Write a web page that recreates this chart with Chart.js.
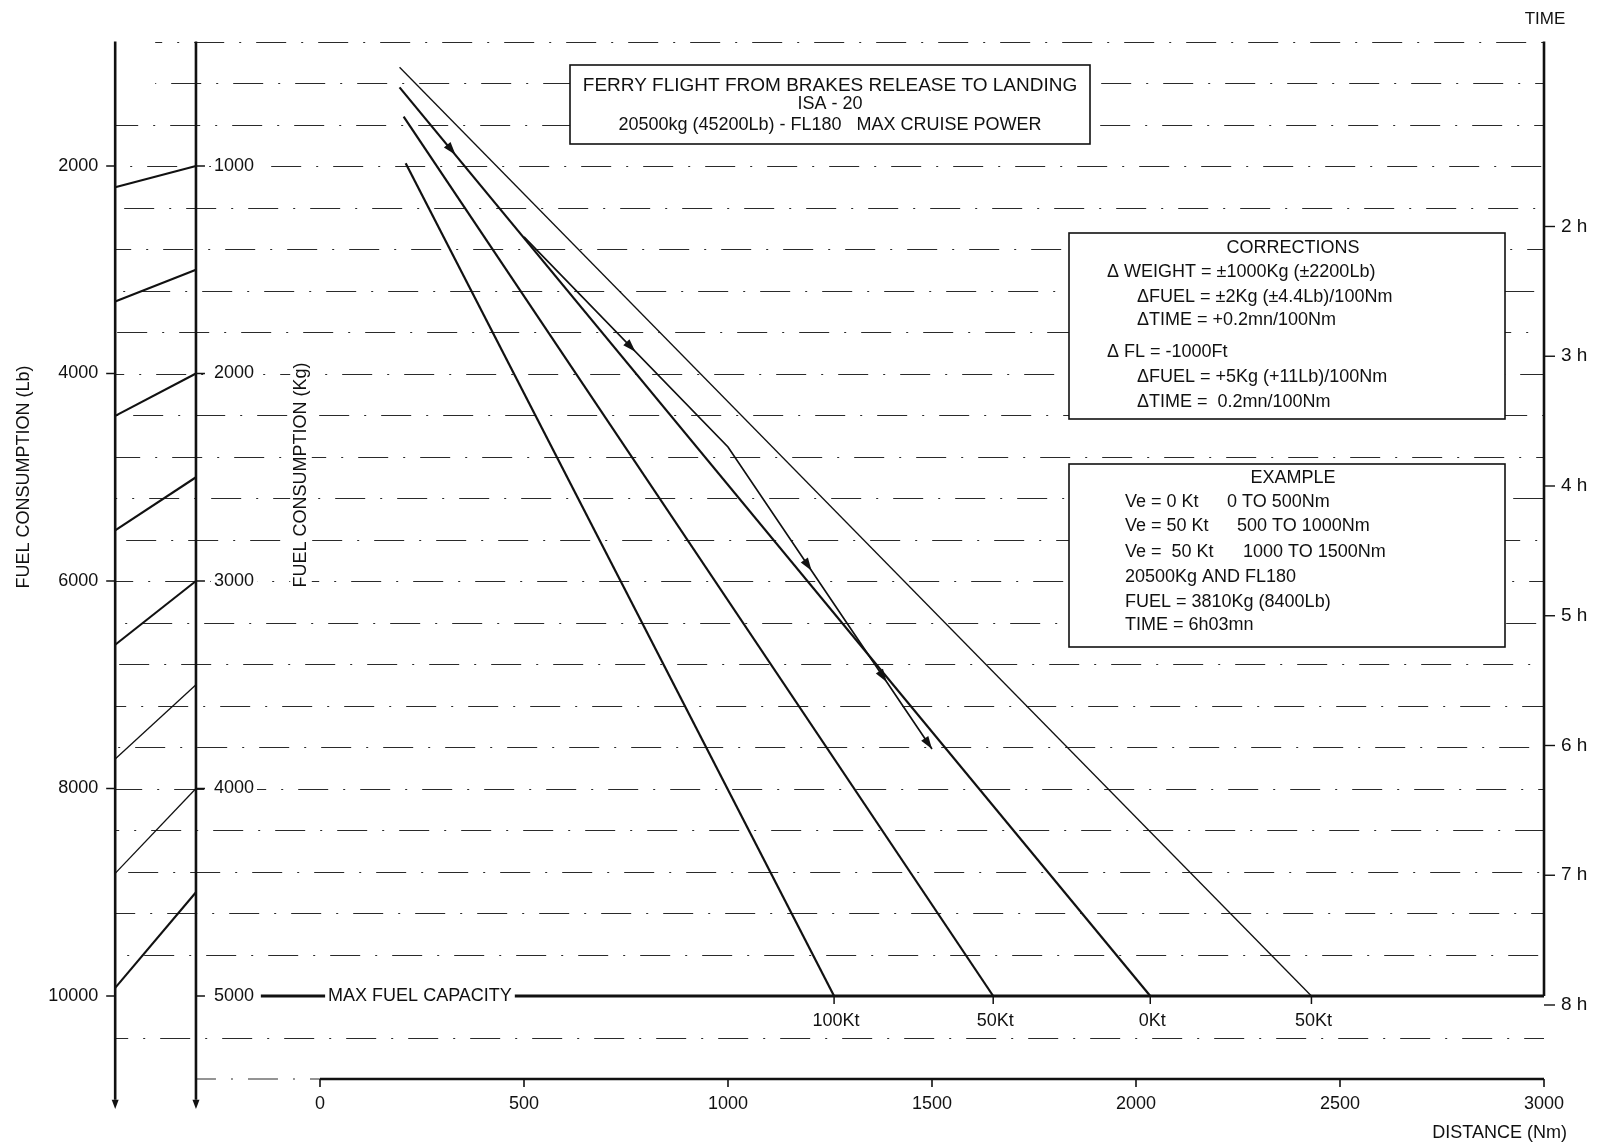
<!DOCTYPE html>
<html>
<head>
<meta charset="utf-8">
<script src="https://cdn.jsdelivr.net/npm/chart.js@4.4.1/dist/chart.umd.min.js"></script>
<style>
  html, body { margin: 0; padding: 0; background: #fff; }
  #wrap { width: 1607px; height: 1143px; }
</style>
</head>
<body>
<div id="wrap"><canvas id="ferry" width="1607" height="1143"></canvas></div>
<script>
"use strict";

// wind lines (Ve) : start / end
const windLabels = ["50Kt", "0Kt", "50Kt", "100Kt"];
const windStartDist = [195, 195, 205, 210];
const windStartFuel = [524, 621, 762, 987];
const windEndDist = [2430, 2035, 1650, 1260];
const maxFuelKg = 5000;

// worked example : leaves the 0Kt line at 500Nm
const exampleDist = [500, 1000, 1500];
const exampleFuel = [1342, 2354, 3810];
const arrowDist = [322, 762, 1196, 1380, 1500];

// kg -> lb conversion lines between the two left scales
const convKg = [1000, 1500, 2000, 2500, 3000, 3500, 4000, 4500];
const convLb = [2205, 3307, 4409, 5512, 6614, 7716, 8818, 9921];

// tick labels
const distTicks = [0, 500, 1000, 1500, 2000, 2500, 3000];
const kgTicks = [1000, 2000, 3000, 4000, 5000];
const lbTicks = [2000, 4000, 6000, 8000, 10000];
const timeTicks = [2, 3, 4, 5, 6, 7, 8];

// where the left scales sit, in distance units
const LB_AXIS = -502;
const KG_AXIS = -304;
const FONT = '"Liberation Sans", Arial, sans-serif';
const INK = "#111";

function seg(ctx, x1, y1, x2, y2) {
  ctx.beginPath();
  ctx.moveTo(x1, y1);
  ctx.lineTo(x2, y2);
  ctx.stroke();
}

function txt(ctx, s, x, y, size, align, bg) {
  ctx.font = size + "px " + FONT;
  ctx.textAlign = align || "left";
  ctx.textBaseline = "middle";
  if (bg) {
    const w = ctx.measureText(s).width;
    const x0 = align === "center" ? x - w / 2 : align === "right" ? x - w : x;
    ctx.fillStyle = "#fff";
    ctx.fillRect(x0 - 3, y - size * 0.6, w + 6, size * 1.2);
  }
  ctx.fillStyle = INK;
  ctx.fillText(s, x, y);
}

function arrowHead(ctx, x, y, ang, len, half) {
  ctx.save();
  ctx.translate(x, y);
  ctx.rotate(ang);
  ctx.beginPath();
  ctx.moveTo(len / 2, 0);
  ctx.lineTo(-len / 2, -half);
  ctx.lineTo(-len / 2, half);
  ctx.closePath();
  ctx.fill();
  ctx.restore();
}

function box(ctx, x, y, w, h) {
  ctx.save();
  ctx.setLineDash([]);
  ctx.fillStyle = "#fff";
  ctx.fillRect(x, y, w, h);
  ctx.strokeStyle = INK;
  ctx.lineWidth = 1.6;
  ctx.strokeRect(x, y, w, h);
  ctx.restore();
}

const ferryPlugin = {
  id: "ferry",
  beforeDraw(chart) {
    const ctx = chart.ctx;
    ctx.save();
    ctx.fillStyle = "#fff";
    ctx.fillRect(0, 0, chart.width, chart.height);
    ctx.restore();
  },
  beforeDatasetsDraw(chart) {
    const ctx = chart.ctx;
    const sx = chart.scales.x, sy = chart.scales.y, sLb = chart.scales.yLb, sT = chart.scales.yTime;
    const xLb = sx.getPixelForValue(LB_AXIS), xKg = sx.getPixelForValue(KG_AXIS);
    const x0 = sx.getPixelForValue(0), xR = sx.getPixelForValue(3000);
    ctx.save();

    // broken dash-dot grid every 200 kg
    ctx.strokeStyle = "#2a2a2a";
    ctx.lineWidth = 1.2;
    let row = 0;
    for (let kg = 400; kg <= 5200; kg += 200) {
      row++;
      if (kg === maxFuelKg) continue;
      ctx.setLineDash([30, 15, 2, 15]);
      ctx.lineDashOffset = (row * 23) % 62;
      const yy = Math.round(sy.getPixelForValue(kg)) + 0.5;
      seg(ctx, kg < 700 ? xLb + 40 : xLb, yy, xR, yy);
    }
    ctx.lineDashOffset = 10;
    const yAx = sy.getPixelForValue(5400);
    seg(ctx, xKg, yAx, x0, yAx);
    ctx.setLineDash([]);

    // annotation boxes
    box(ctx, 570, 65, 520, 79);
    box(ctx, 1069, 233, 436, 186);
    box(ctx, 1069, 464, 436, 183);

    // left scales: lb and kg, with arrows at the foot
    ctx.strokeStyle = INK;
    ctx.fillStyle = INK;
    ctx.lineWidth = 2.6;
    const yTop = sy.getPixelForValue(400), yBot = sy.getPixelForValue(5500), yTip = sy.getPixelForValue(5545);
    [xLb, xKg].forEach(function (xx) {
      seg(ctx, xx, yTop, xx, yBot);
      arrowHead(ctx, xx, (yBot + yTip) / 2, Math.PI / 2, yTip - yBot, 3.5);
    });

    // kg -> lb lines
    convKg.forEach(function (kg, i) {
      ctx.lineWidth = (i === 5 || i === 6) ? 1.3 : 2.1;
      seg(ctx, xKg, sy.getPixelForValue(kg), xLb, sLb.getPixelForValue(convLb[i]));
    });

    // right (time) scale
    ctx.lineWidth = 2.6;
    seg(ctx, xR, yTop, xR, sy.getPixelForValue(maxFuelKg));
    ctx.lineWidth = 1.4;
    timeTicks.forEach(function (h) {
      const yy = sT.getPixelForValue(h);
      seg(ctx, xR, yy, xR + 11, yy);
    });

    // distance axis
    ctx.lineWidth = 2.6;
    seg(ctx, x0, yAx, xR, yAx);
    ctx.lineWidth = 1.6;
    distTicks.forEach(function (d) {
      const xx = sx.getPixelForValue(d);
      seg(ctx, xx, yAx, xx, yAx + 8);
    });

    // max fuel capacity line
    const yMax = sy.getPixelForValue(maxFuelKg);
    ctx.lineWidth = 3;
    seg(ctx, sx.getPixelForValue(-145), yMax, xR, yMax);
    ctx.lineWidth = 1.5;
    windEndDist.forEach(function (d) {
      const xx = sx.getPixelForValue(d);
      seg(ctx, xx, yMax, xx, yMax + 8);
    });

    // ticks on the left scales
    lbTicks.forEach(function (lb) {
      const yy = sLb.getPixelForValue(lb);
      seg(ctx, xLb - 9, yy, xLb, yy);
    });
    kgTicks.forEach(function (kg) {
      const yy = sy.getPixelForValue(kg);
      seg(ctx, xKg, yy, xKg + 9, yy);
    });
    ctx.restore();
  },
  afterDatasetsDraw(chart) {
    const ctx = chart.ctx;
    const sx = chart.scales.x, sy = chart.scales.y, sLb = chart.scales.yLb, sT = chart.scales.yTime;
    const xLb = sx.getPixelForValue(LB_AXIS), xKg = sx.getPixelForValue(KG_AXIS);
    const xR = sx.getPixelForValue(3000);
    ctx.save();

    // arrows along the example route (first one rides the 0Kt line)
    const route = [[windStartDist[1], windStartFuel[1]]];
    exampleDist.forEach(function (d, i) { route.push([d, exampleFuel[i]]); });
    const pts = route.map(function (p) { return [sx.getPixelForValue(p[0]), sy.getPixelForValue(p[1])]; });
    ctx.fillStyle = INK;
    arrowDist.forEach(function (d) {
      const xx = sx.getPixelForValue(d);
      for (let i = 1; i < pts.length; i++) {
        if (xx <= pts[i][0] + 0.01) {
          const a = pts[i - 1], b = pts[i];
          const t = (xx - a[0]) / (b[0] - a[0]);
          const ang = Math.atan2(b[1] - a[1], b[0] - a[0]);
          const len = 13;
          const back = d === 1500 ? len / 2 : 0;
          const cx = a[0] + t * (b[0] - a[0]) - Math.cos(ang) * back;
          const cy = a[1] + t * (b[1] - a[1]) - Math.sin(ang) * back;
          arrowHead(ctx, cx, cy, ang, len, 4.3);
          break;
        }
      }
    });

    // left scale labels and titles
    lbTicks.forEach(function (lb) {
      txt(ctx, String(lb), xLb - 17, sLb.getPixelForValue(lb), 18, "right");
    });
    kgTicks.forEach(function (kg) {
      txt(ctx, String(kg), xKg + 18, sy.getPixelForValue(kg), 18, "left", true);
    });
    [["FUEL CONSUMPTION (Lb)", 24, 477, false], ["FUEL CONSUMPTION (Kg)", 301, 475, true]].forEach(function (t) {
      ctx.save();
      ctx.translate(t[1], t[2]);
      ctx.rotate(-Math.PI / 2);
      txt(ctx, t[0], 0, 0, 18, "center", t[3]);
      ctx.restore();
    });

    // max fuel + wind end labels
    const yMax = sy.getPixelForValue(maxFuelKg);
    txt(ctx, "MAX FUEL CAPACITY", sx.getPixelForValue(245), yMax, 18, "center", true);
    windEndDist.forEach(function (d, i) {
      txt(ctx, windLabels[i], sx.getPixelForValue(d) + 2, yMax + 25, 18, "center");
    });

    // distance axis labels
    const yAx = sy.getPixelForValue(5400);
    distTicks.forEach(function (d) {
      txt(ctx, String(d), sx.getPixelForValue(d), yAx + 25, 18, "center");
    });
    txt(ctx, "DISTANCE (Nm)", 1567, 1133, 18, "right");

    // time scale labels
    timeTicks.forEach(function (h) {
      txt(ctx, h + " h", xR + 17, sT.getPixelForValue(h), 19, "left");
    });
    txt(ctx, "TIME", xR + 1, 19, 17, "center");

    // title box
    txt(ctx, "FERRY FLIGHT FROM BRAKES RELEASE TO LANDING", 830, 86, 19, "center");
    txt(ctx, "ISA - 20", 830, 104, 18, "center");
    txt(ctx, "20500kg (45200Lb) - FL180   MAX CRUISE POWER", 830, 125, 18, "center");

    // corrections box
    txt(ctx, "CORRECTIONS", 1293, 248, 18, "center");
    txt(ctx, "\u0394 WEIGHT = \u00b11000Kg (\u00b12200Lb)", 1107, 272, 18);
    txt(ctx, "\u0394FUEL = \u00b12Kg (\u00b14.4Lb)/100Nm", 1137, 297, 18);
    txt(ctx, "\u0394TIME = +0.2mn/100Nm", 1137, 320, 18);
    txt(ctx, "\u0394 FL = -1000Ft", 1107, 352, 18);
    txt(ctx, "\u0394FUEL = +5Kg (+11Lb)/100Nm", 1137, 377, 18);
    txt(ctx, "\u0394TIME =  0.2mn/100Nm", 1137, 402, 18);

    // example box
    txt(ctx, "EXAMPLE", 1293, 478, 18, "center");
    txt(ctx, "Ve = 0 Kt", 1125, 502, 18);
    txt(ctx, "0 TO 500Nm", 1227, 502, 18);
    txt(ctx, "Ve = 50 Kt", 1125, 526, 18);
    txt(ctx, "500 TO 1000Nm", 1237, 526, 18);
    txt(ctx, "Ve =  50 Kt", 1125, 552, 18);
    txt(ctx, "1000 TO 1500Nm", 1243, 552, 18);
    txt(ctx, "20500Kg AND FL180", 1125, 577, 18);
    txt(ctx, "FUEL = 3810Kg (8400Lb)", 1125, 602, 18);
    txt(ctx, "TIME = 6h03mn", 1125, 625, 18);
    ctx.restore();
  }
};

const windWidths = [1.3, 2.2, 2.2, 2.2];
const datasets = windLabels.map(function (lab, i) {
  return {
    label: lab,
    data: [{ x: windStartDist[i], y: windStartFuel[i] }, { x: windEndDist[i], y: maxFuelKg }],
    showLine: true,
    borderColor: INK,
    borderWidth: windWidths[i],
    pointRadius: 0,
    xAxisID: "x",
    yAxisID: "y"
  };
});
datasets.push({
  label: "Example",
  data: exampleDist.map(function (d, i) { return { x: d, y: exampleFuel[i] }; }),
  showLine: true,
  borderColor: INK,
  borderWidth: 1.7,
  pointRadius: 0,
  xAxisID: "x",
  yAxisID: "y"
});

new Chart(document.getElementById("ferry"), {
  type: "scatter",
  data: { datasets: datasets },
  options: {
    responsive: false,
    animation: false,
    devicePixelRatio: 1,
    layout: { padding: { left: 95.6, right: 63, top: 20.75, bottom: 22.5 } },
    scales: {
      x: { type: "linear", min: -550, max: 3000, display: false },
      y: { type: "linear", reverse: true, min: 300, max: 5600, display: false },
      yLb: { type: "linear", reverse: true, min: 600, max: 11200, display: false },
      yTime: { type: "linear", reverse: true, min: 0.4143, max: 8.8902, display: false }
    },
    plugins: {
      legend: { display: false },
      tooltip: { enabled: false }
    }
  },
  plugins: [ferryPlugin]
});
</script>
</body>
</html>
